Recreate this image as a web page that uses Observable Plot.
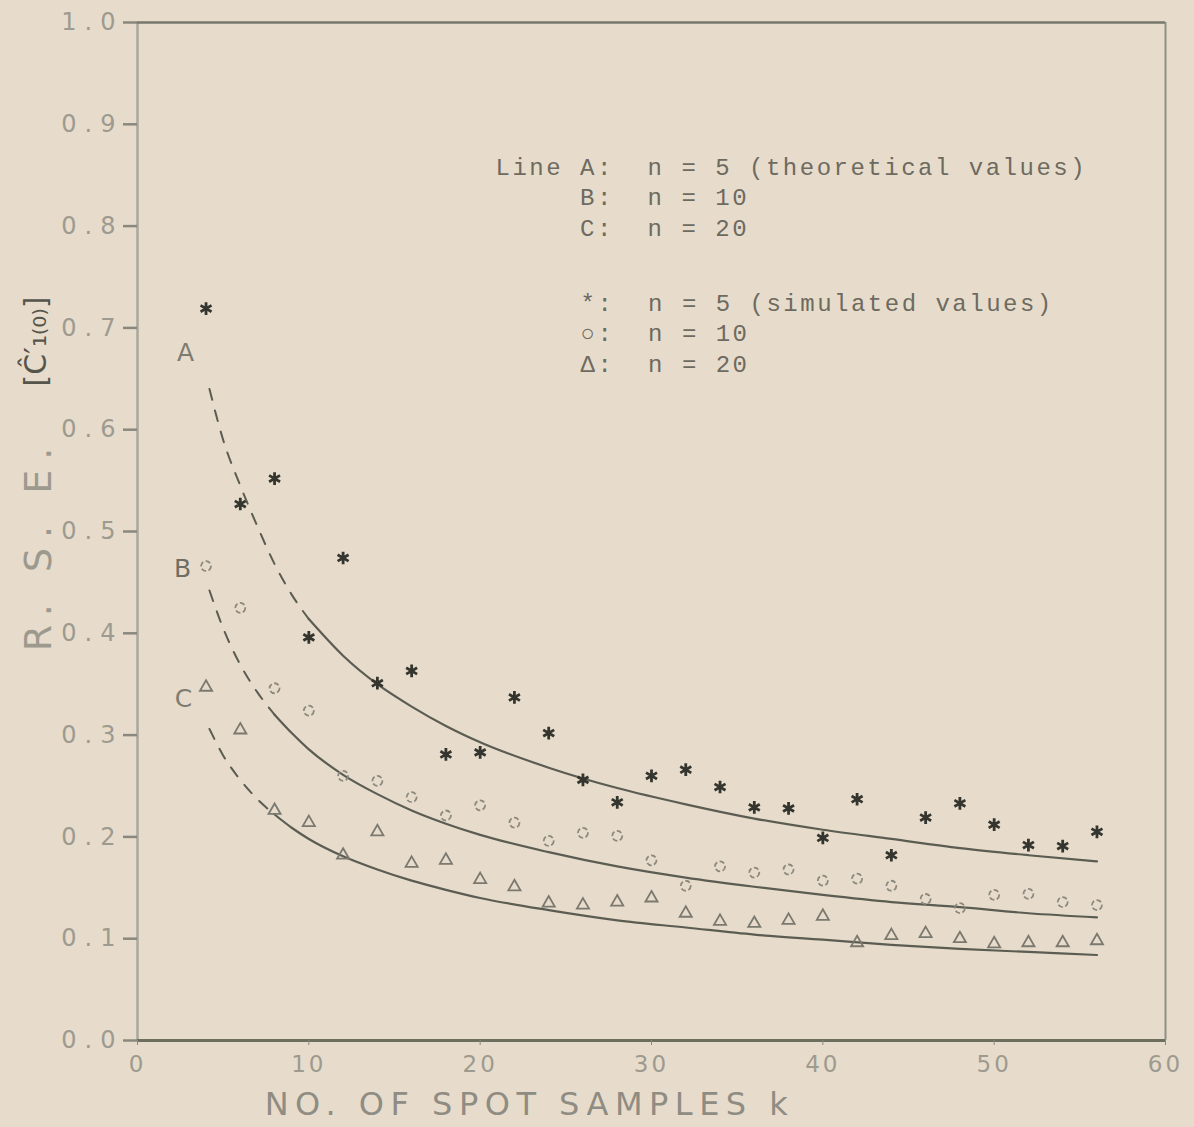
<!DOCTYPE html>
<html><head><meta charset="utf-8">
<script src="https://cdn.jsdelivr.net/npm/d3@7"></script>
<script src="https://cdn.jsdelivr.net/npm/@observablehq/plot@0.6"></script>
<style>
html,body{margin:0;padding:0;background:#e7dccb;}
#chart{width:1194px;height:1127px;}
svg text{white-space:pre;}
</style></head><body><div id="chart"></div>
<script>
// ---- data ----
const kSim = [4,6,8,10,12,14,16,18,20,22,24,26,28,30,32,34,36,38,40,42,44,46,48,50,52,54,56];
const simN5  = [0.719,0.527,0.552,0.396,0.474,0.351,0.363,0.281,0.283,0.337,0.302,0.256,0.234,0.260,0.266,0.249,0.229,0.228,0.199,0.237,0.182,0.219,0.233,0.212,0.192,0.191,0.205];
const simN10 = [0.466,0.425,0.346,0.324,0.260,0.255,0.239,0.221,0.231,0.214,0.196,0.204,0.201,0.177,0.152,0.171,0.165,0.168,0.157,0.159,0.152,0.139,0.130,0.143,0.144,0.136,0.133];
const simN20 = [0.347,0.305,0.226,0.214,0.182,0.205,0.174,0.177,0.158,0.151,0.135,0.133,0.136,0.140,0.125,0.117,0.115,0.118,0.122,0.096,0.103,0.105,0.100,0.095,0.096,0.096,0.098];

const lineK = [4.2,5,6,7,8,9,10,12,14,16,18,20,24,28,32,36,40,44,48,52,56];
const lineA = [0.640,0.590,0.545,0.505,0.468,0.438,0.414,0.378,0.350,0.328,0.309,0.293,0.268,0.248,0.232,0.218,0.207,0.198,0.189,0.182,0.176];
const lineB = [0.442,0.405,0.369,0.342,0.320,0.302,0.286,0.261,0.242,0.226,0.213,0.202,0.185,0.171,0.160,0.151,0.143,0.136,0.131,0.125,0.121];
const lineC = [0.306,0.280,0.256,0.237,0.222,0.209,0.198,0.181,0.168,0.157,0.148,0.140,0.128,0.118,0.111,0.104,0.099,0.094,0.090,0.087,0.084];
const lineNames = ["A","B","C"];
const dashUntil = [10, 8, 8];

const xTicks = [0,10,20,30,40,50,60];
const yTicks = [0,0.1,0.2,0.3,0.4,0.5,0.6,0.7,0.8,0.9,1.0];

const xTitle = "NO. OF SPOT SAMPLES k";
const yTitleMain = "R. S. E.";
const yTitleSym = "[Ĉ′₁₍₀₎]";
const legendTheory = ["Line A:  n = 5 (theoretical values)", "     B:  n = 10", "     C:  n = 20"];
const legendSim = ["*:  n = 5 (simulated values)", "○:  n = 10", "Δ:  n = 20"];

// ---- tables ----
const sim = kSim.map((k,i)=>({k, n5:simN5[i], n10:simN10[i], n20:simN20[i]}));
const lineVals = [lineA, lineB, lineC];
const lines = lineNames.flatMap((name,j)=> lineK.map((k,i)=>({k, v:lineVals[j][i], s:name, dash:k<=dashUntil[j], solid:k>=dashUntil[j]})));
const firstPt = name => lines.filter(d=>d.s===name).slice(0,1);

const ink = "#5b5c52";
const chart = Plot.plot({
  width:1194, height:1127,
  marginLeft:137, marginRight:29, marginTop:22, marginBottom:87,
  style:{background:"#e7dccb", fontFamily:"DejaVu Sans", overflow:"visible"},
  x:{domain:[0,60]},
  y:{domain:[0,1]},
  marks:[
    Plot.ruleX([0], {stroke:"#a9a79d", strokeWidth:2.5}),
    Plot.ruleX([60], {stroke:"#8f8f85", strokeWidth:2}),
    Plot.ruleY([0], {stroke:"#6c6e5e", strokeWidth:3}),
    Plot.ruleY([1], {stroke:"#75776a", strokeWidth:2.5}),
    Plot.axisY({ticks:yTicks, tickFormat:d3.format(".1f"), tickSize:14, tickPadding:0, fontSize:24, fill:"#9d9a90", stroke:"#8a887e", strokeWidth:2.5, label:null}),
    Plot.axisX({ticks:xTicks, tickFormat:d=>String(d), tickSize:5, tickPadding:10, fontSize:23, fill:"#9d9a90", stroke:"#8a887e", label:null}),
    // theoretical curves
    Plot.lineY(lines.filter(d=>d.dash), {x:"k", y:"v", z:"s", curve:"monotone-x", stroke:ink, strokeWidth:2, strokeDasharray:"11,11"}),
    Plot.lineY(lines.filter(d=>d.solid), {x:"k", y:"v", z:"s", curve:"monotone-x", stroke:ink, strokeWidth:2.2}),
    // simulated points
    Plot.dot(sim, {x:"k", y:"n10", symbol:"circle", r:5, stroke:"#8b897f", strokeWidth:1.8, fill:"none", strokeDasharray:"5,2.5"}),
    Plot.dot(sim, {x:"k", y:"n20", symbol:"triangle", r:4.5, stroke:"#7b796f", strokeWidth:1.8, fill:"none"}),
    Plot.dot(sim, {x:"k", y:"n5", symbol:"asterisk", r:6, stroke:"#34352e", strokeWidth:2.8}),
    // curve labels
    Plot.text(firstPt("A"), {x:"k", y:"v", text:"s", dx:-24, dy:-36, fontSize:25, fill:"#7d7b72"}),
    Plot.text(firstPt("B"), {x:"k", y:"v", text:"s", dx:-27, dy:-22, fontSize:25, fill:"#6f6d64"}),
    Plot.text(firstPt("C"), {x:"k", y:"v", text:"s", dx:-26, dy:-30, fontSize:25, fill:"#7d7b72"}),
    // legend block
    Plot.text([legendTheory.join("\n")], {text:d=>d, frameAnchor:"top-left", textAnchor:"start", lineAnchor:"middle", dx:358, dy:173, lineHeight:30.5/24, fontFamily:"Liberation Mono", fontSize:24, fill:"#6d6a60"}),
    Plot.text([legendSim.join("\n")], {text:d=>d, frameAnchor:"top-left", textAnchor:"start", lineAnchor:"middle", dx:443, dy:309, lineHeight:30.5/24, fontFamily:"Liberation Mono", fontSize:24, fill:"#6d6a60"}),
    // axis titles
    Plot.text([xTitle], {text:d=>d, frameAnchor:"bottom", lineAnchor:"middle", textAnchor:"middle", dx:-122, dy:64, fontSize:32, fill:"#8f8c83"}),
    Plot.text([yTitleMain], {text:d=>d, frameAnchor:"left", lineAnchor:"middle", textAnchor:"middle", rotate:-90, dx:-99, dy:13, fontSize:38, fill:"#9c998f"}),
    Plot.text([yTitleSym], {text:d=>d, frameAnchor:"left", lineAnchor:"middle", textAnchor:"middle", rotate:-90, dx:-101, dy:-190, fontSize:30, fill:"#55554c"})
  ]
});
document.getElementById("chart").append(chart);
const svg = d3.select(chart.tagName.toLowerCase()==="svg" ? chart : chart.querySelector("svg"));
svg.selectAll('g[aria-label="y-axis tick label"] text').attr("letter-spacing", 8);
svg.selectAll('g[aria-label="x-axis tick label"] text').attr("letter-spacing", 3);
svg.selectAll("text").each(function(){
  const t = this.textContent;
  if (t === xTitle) this.setAttribute("letter-spacing", 6.5);
  else if (t === yTitleMain) this.setAttribute("letter-spacing", 10);
  else if (t.startsWith("Line A") || t.startsWith("*:")) this.setAttribute("letter-spacing", 2.5);
});
</script></body></html>
